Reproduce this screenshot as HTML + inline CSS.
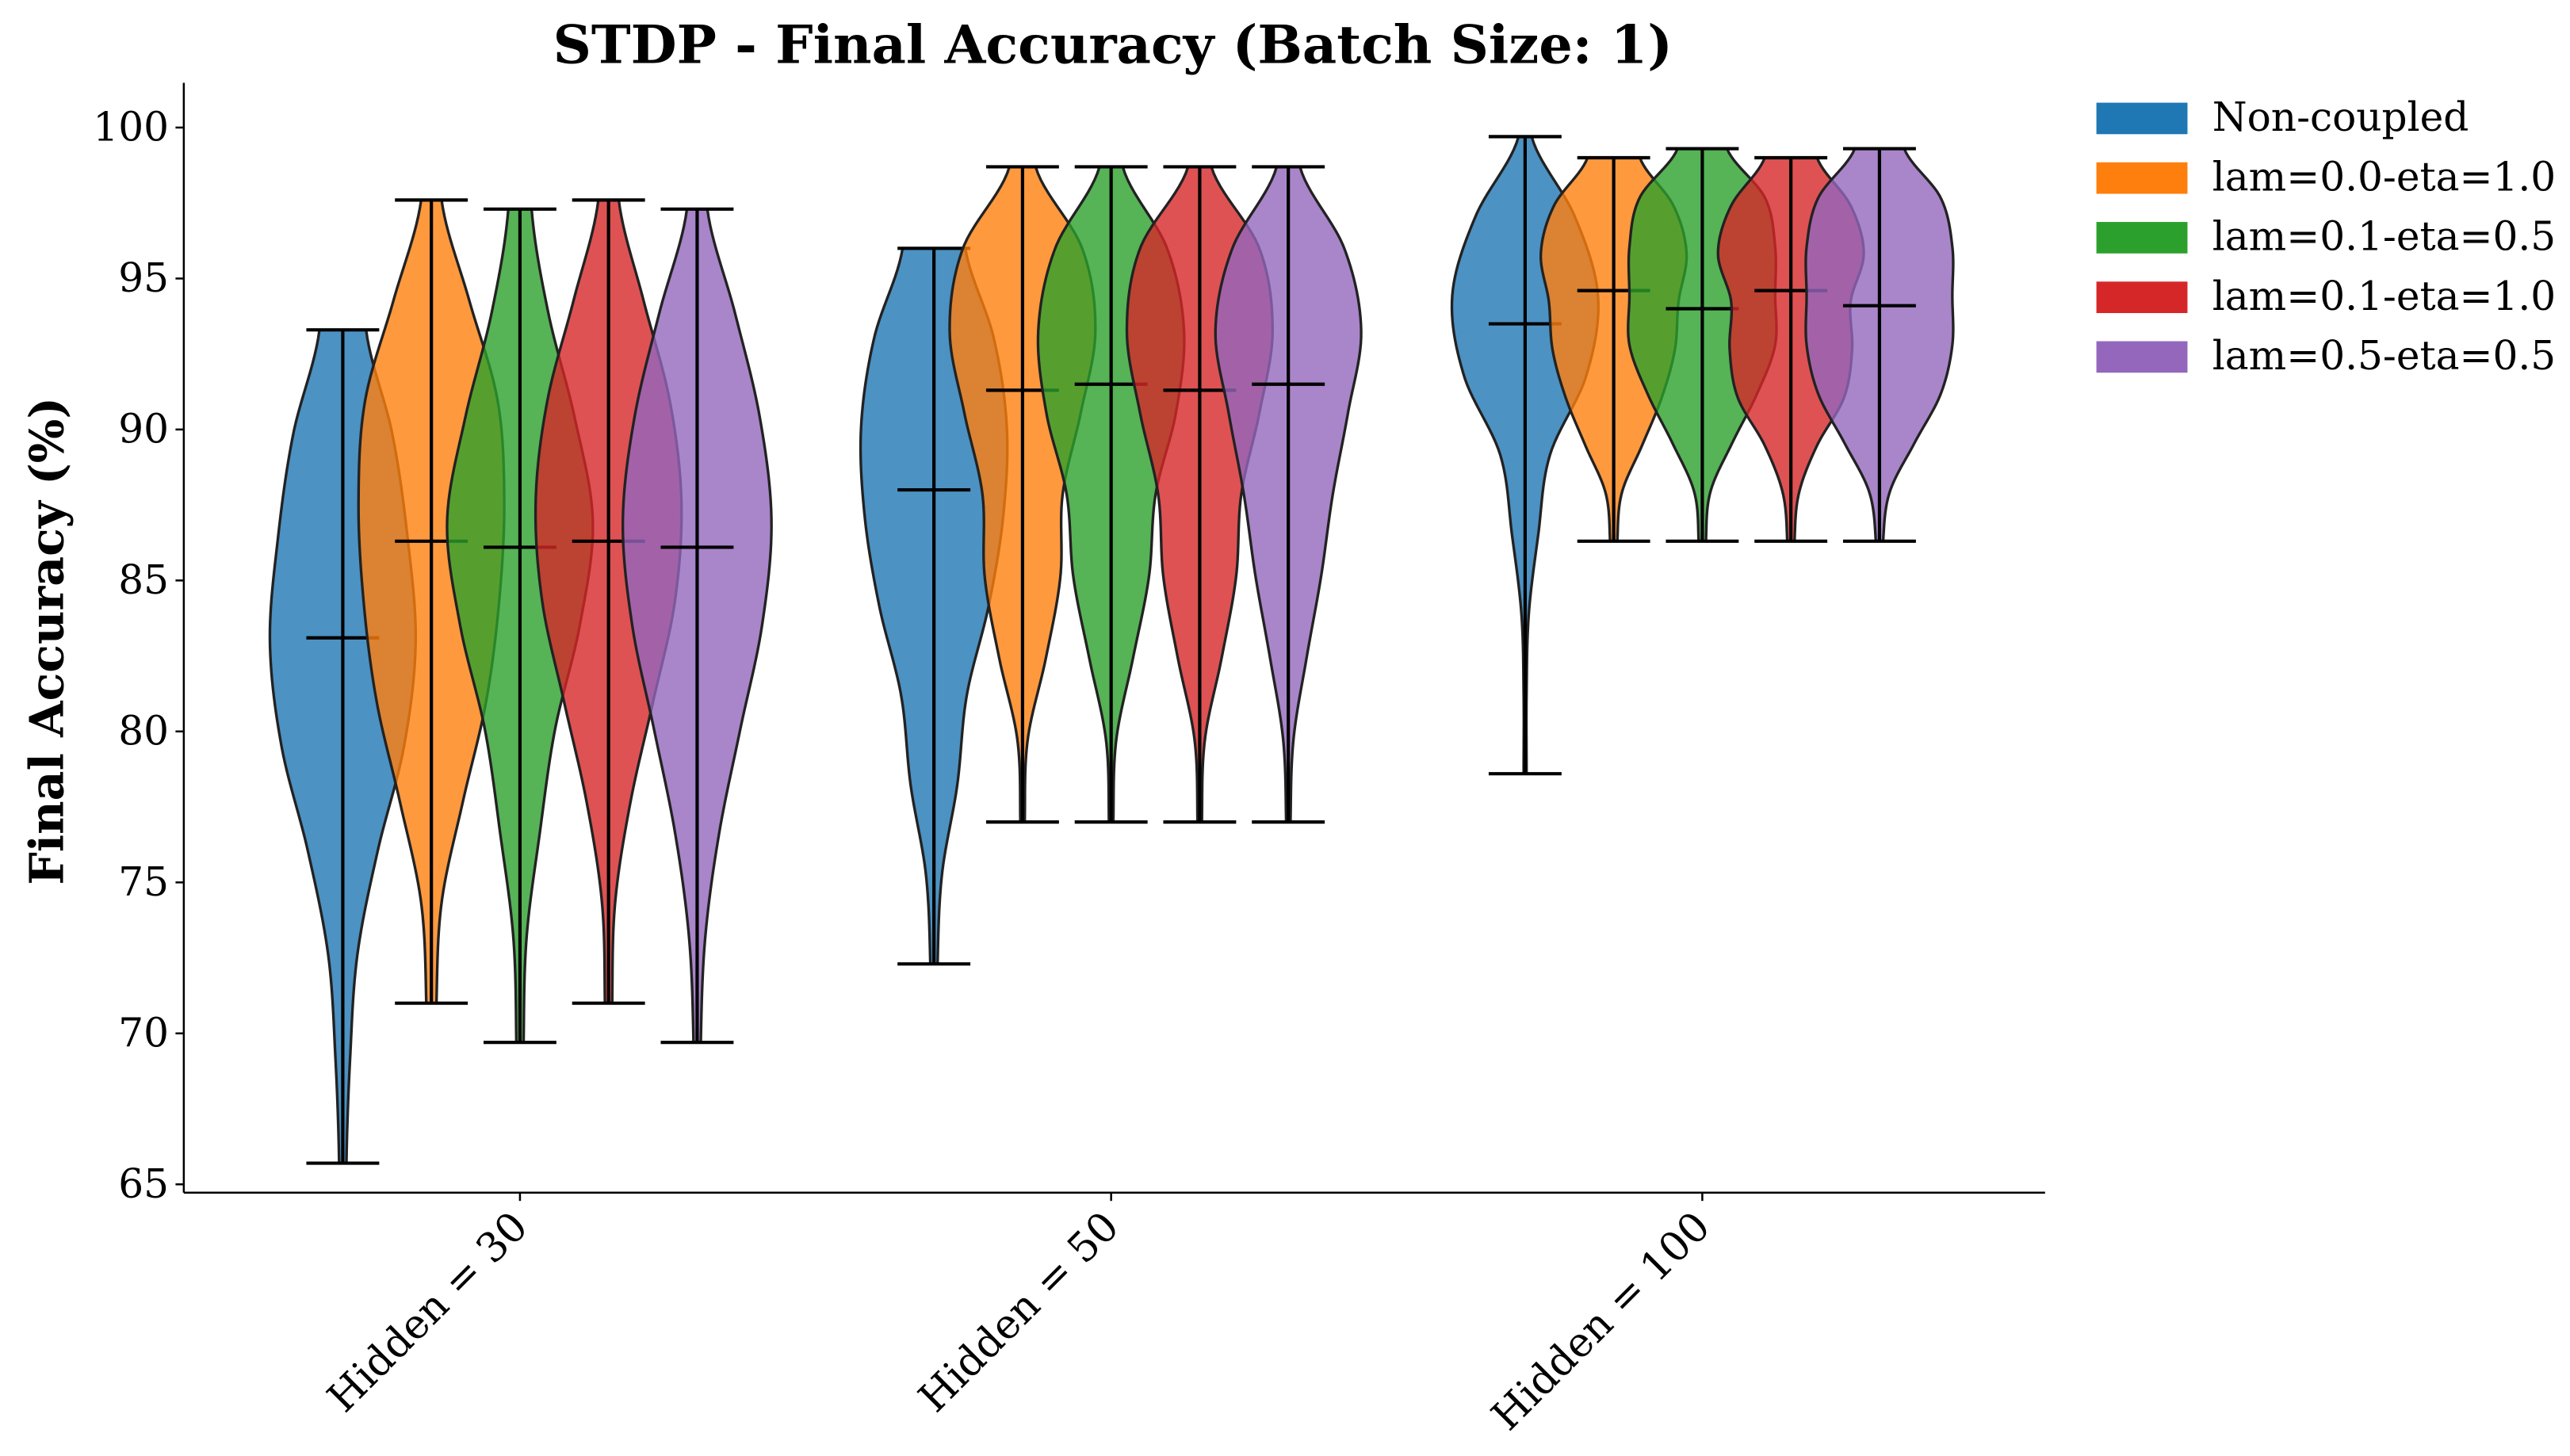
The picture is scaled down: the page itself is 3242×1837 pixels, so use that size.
<!DOCTYPE html>
<html><head><meta charset="utf-8"><style>
html,body{margin:0;padding:0;background:#fff}
svg{display:block}
text{font-family:"DejaVu Serif","Liberation Serif",serif;fill:#000}
</style></head><body>
<svg id="chart" width="3242" height="1837" viewBox="0 0 1552 879" preserveAspectRatio="none" xmlns="http://www.w3.org/2000/svg">
<text x="672" y="38" text-anchor="middle" font-size="32" font-weight="bold">STDP - Final Accuracy (Batch Size: 1)</text>
<text transform="translate(38,387) rotate(-90)" text-anchor="middle" font-size="28" font-weight="bold">Final Accuracy (%)</text>
<g id="violins"></g>
<g id="axes"></g>
<g id="legend"></g>
</svg>
<script>
const groups = ["Hidden = 30", "Hidden = 50", "Hidden = 100"];
const seriesNames = ["Non-coupled", "lam=0.0-eta=1.0", "lam=0.1-eta=0.5", "lam=0.1-eta=1.0", "lam=0.5-eta=0.5"];
const colors = ["#1f77b4", "#ff7f0e", "#2ca02c", "#d62728", "#9467bd"];
const yTicks = [65, 70, 75, 80, 85, 90, 95, 100];
// per series: values for [H30, H50, H100]
const minVals = [[65.7, 72.3, 78.6], [71.0, 77.0, 86.3], [69.7, 77.0, 86.3], [71.0, 77.0, 86.3], [69.7, 77.0, 86.3]];
const maxVals = [[93.3, 96.0, 99.7], [97.6, 98.7, 99.0], [97.3, 98.7, 99.3], [97.6, 98.7, 99.0], [97.3, 98.7, 99.3]];
const medianVals = [[83.1, 88.0, 93.5], [86.3, 91.3, 94.6], [86.1, 91.5, 94.0], [86.3, 91.3, 94.6], [86.1, 91.5, 94.1]];
// relative density profiles, bottom (min) to top (max)
const densities = [
  [[0.05,0.1,0.2,0.48,0.84,1,0.89,0.68,0.32],[0.05,0.11,0.32,0.45,0.75,0.95,1,0.82,0.43],[0.02,0.02,0.05,0.18,0.34,0.84,1,0.68,0.09]],
  [[0.07,0.14,0.43,0.75,0.93,1,0.91,0.52,0.14],[0.03,0.07,0.32,0.52,0.55,0.8,1,0.82,0.18],[0.05,0.11,0.39,0.66,0.84,0.89,1,0.82,0.36]],
  [[0.05,0.09,0.27,0.48,0.82,1,0.75,0.39,0.16],[0.03,0.07,0.3,0.52,0.61,0.89,1,0.77,0.16],[0.05,0.11,0.41,0.75,1,1,1,0.86,0.34]],
  [[0.05,0.09,0.3,0.61,0.91,1,0.84,0.48,0.14],[0.03,0.07,0.3,0.5,0.57,0.82,1,0.82,0.16],[0.05,0.11,0.36,0.73,0.84,0.82,1,0.82,0.36]],
  [[0.05,0.11,0.3,0.59,0.89,1.02,0.86,0.52,0.14],[0.03,0.07,0.25,0.45,0.61,0.82,1,0.77,0.16],[0.05,0.14,0.48,0.84,1,1,1,0.84,0.34]]
];
const NS="http://www.w3.org/2000/svg";
const plot={x0:111,x1:1235,yTop:50,yBot:720};
const yScale=v=>77+(100-v)*(715-77)/35;
const groupCenter=i=>314+i*357;
const seriesOffset=j=>(j-2)*53.5;
const widthScale=44, capHalf=22;
function el(tag,attrs,parent){const e=document.createElementNS(NS,tag);for(const k in attrs)e.setAttribute(k,attrs[k]);parent.appendChild(e);return e;}
function interp(p,t){const n=p.length-1;const f=t*n;let i=Math.floor(f);if(i>=n)i=n-1;const u=f-i;
 const p0=p[Math.max(i-1,0)],p1=p[i],p2=p[i+1],p3=p[Math.min(i+2,n)];
 return Math.max(0.01,0.5*((2*p1)+(-p0+p2)*u+(2*p0-5*p1+4*p2-p3)*u*u+(-p0+3*p1-3*p2+p3)*u*u*u));}
const vg=document.getElementById('violins');
for(let j=0;j<seriesNames.length;j++){
 for(let g=0;g<groups.length;g++){
  const cx=groupCenter(g)+seriesOffset(j);
  const mn=minVals[j][g],mx=maxVals[j][g],md=medianVals[j][g],prof=densities[j][g];
  const N=100;let L=[],R=[];
  for(let k=0;k<=N;k++){const t=k/N;const v=mn+(mx-mn)*t;const w=interp(prof,t)*widthScale;const y=yScale(v);
   L.push((cx-w).toFixed(2)+","+y.toFixed(2));R.push((cx+w).toFixed(2)+","+y.toFixed(2));}
  const pts=L.concat(R.reverse()).join(" ");
  const body=el('polygon',{points:pts,fill:colors[j],'fill-opacity':0.8,stroke:'#222','stroke-width':1.6},vg);
  
  
  const lines=[[cx,yScale(mn),cx,yScale(mx)],[cx-capHalf,yScale(mn),cx+capHalf,yScale(mn)],[cx-capHalf,yScale(mx),cx+capHalf,yScale(mx)],[cx-capHalf,yScale(md),cx+capHalf,yScale(md)]];
  const names=['range-line','min-cap','max-cap','median-line'];
  lines.forEach((l,k)=>{const ln=el('line',{x1:l[0],y1:l[1],x2:l[2],y2:l[3],stroke:'#000','stroke-width':2},vg);
   
   });
 }
}
const ag=document.getElementById('axes');
const ya=el('line',{x1:plot.x0,y1:plot.yTop,x2:plot.x0,y2:plot.yBot,stroke:'#000','stroke-width':1.2},ag);


const xa=el('line',{x1:plot.x0,y1:plot.yBot,x2:plot.x1,y2:plot.yBot,stroke:'#000','stroke-width':1.2},ag);


yTicks.forEach(v=>{const y=yScale(v);
 el('line',{x1:plot.x0-5,y1:y,x2:plot.x0,y2:y,stroke:'#000','stroke-width':1.2},ag);
 const t=el('text',{x:plot.x0-9,y:y+8,'text-anchor':'end','font-size':24},ag);t.textContent=v;
 
 });
groups.forEach((gname,g)=>{const x=groupCenter(g);
 el('line',{x1:x,y1:plot.yBot,x2:x,y2:plot.yBot+5,stroke:'#000','stroke-width':1.2},ag);
 const t=el('text',{transform:'translate('+(x+6)+','+(plot.yBot+22)+') rotate(-45)','text-anchor':'end','font-size':24.5},ag);t.textContent=gname;
 
 });
const lg=document.getElementById('legend');
seriesNames.forEach((n,j)=>{const y=71+j*36;
 const r=el('rect',{x:1266,y:y-9,width:55,height:19,fill:colors[j]},lg);
 
 
 const t=el('text',{x:1336,y:y+8,'font-size':24},lg);t.textContent=n;
 
 });
</script>
</body></html>
